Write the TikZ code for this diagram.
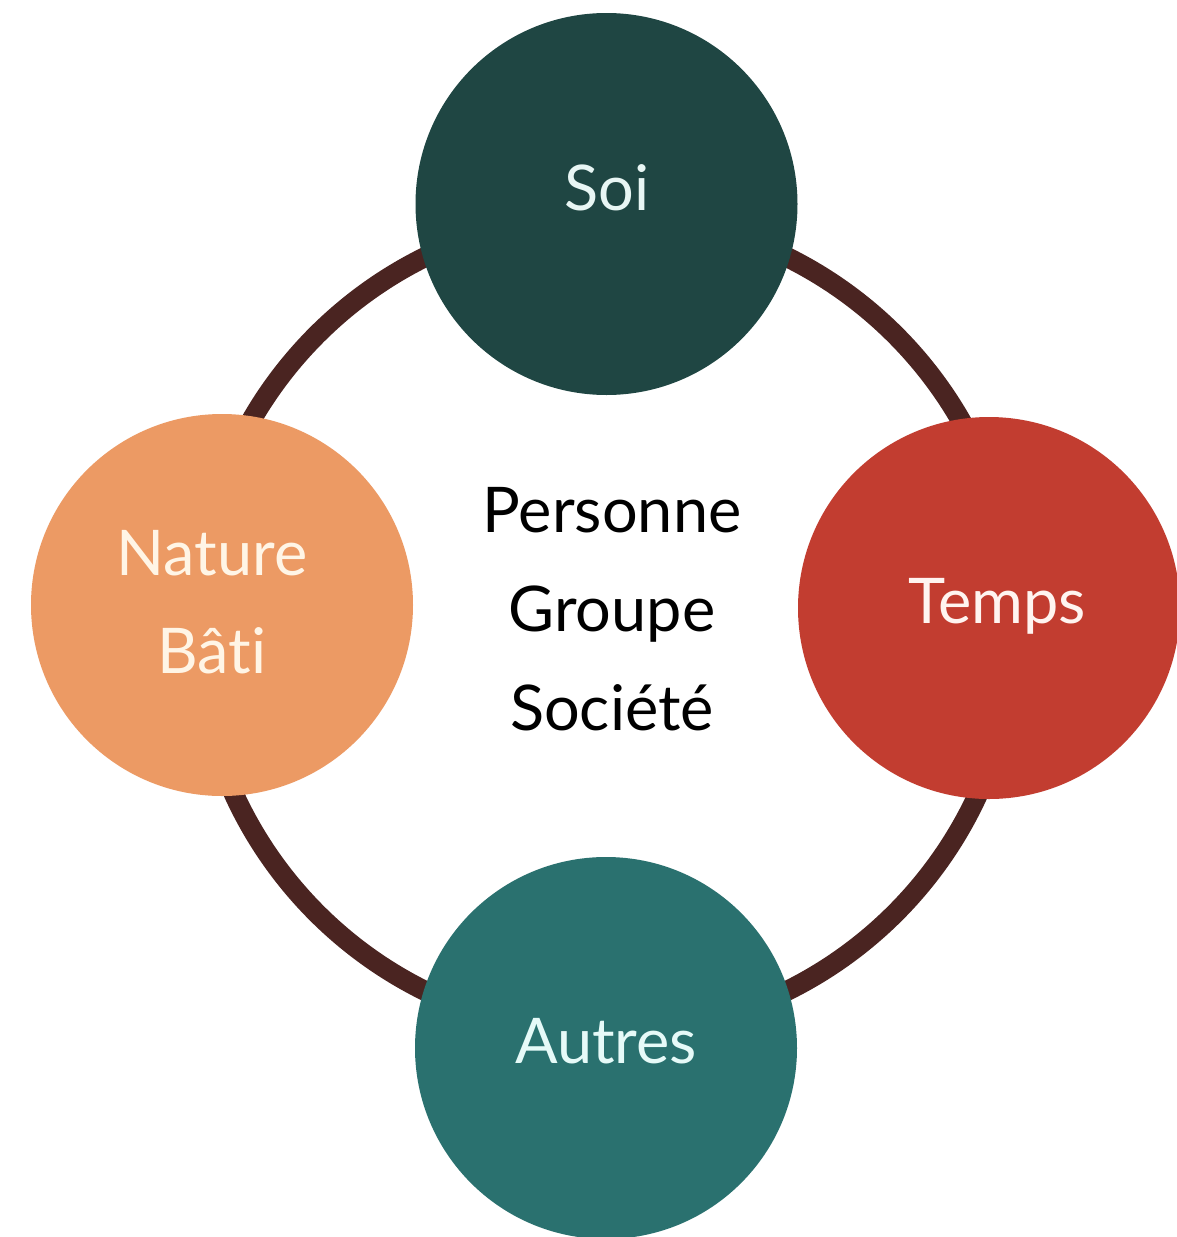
\documentclass[tikz,border=0pt]{standalone}
\usepackage{fontspec}
\setmainfont{Lato}[Ligatures=CommonOff]
\definecolor{ringcol}{HTML}{4A2421}
\definecolor{soicol}{HTML}{1F4643}
\definecolor{tempscol}{HTML}{C23D30}
\definecolor{naturecol}{HTML}{EC9A64}
\definecolor{autrescol}{HTML}{2A716F}
\definecolor{soitxt}{HTML}{E8F6F4}
\definecolor{naturetxt}{HTML}{FFF5E6}
\definecolor{tempstxt}{HTML}{FFF4F0}
\definecolor{autrestxt}{HTML}{E6FAF8}
\tikzset{
  bubble/.style={circle, inner sep=0pt, minimum size=382pt, draw=none},
  lbl/.style={anchor=base, inner sep=0pt, font=\fontsize{63}{98}\selectfont},
  ring/.style={draw=ringcol, line width=20pt}
}
\begin{document}
\begin{tikzpicture}[x=1pt,y=-1pt]
\useasboundingbox (0,0) rectangle (1177,1237);
\fill[white] (0,0) rectangle (1177,1237);
\coordinate (ringc) at (606,624);
\draw[ring] (ringc) circle[radius=409];
\node[bubble, fill=soicol] (soi) at (606.5,204) {};
\node[bubble, fill=naturecol] (nature) at (222,605) {};
\node[bubble, fill=tempscol] (temps) at (989,608) {};
\node[bubble, fill=autrescol] (autres) at (606,1048) {};
\node[lbl, text=soitxt] (tsoi) at (607,210) {Soi};
\node[lbl, text=naturetxt] (tnature) at (212,575) {Nature};
\node[lbl, text=naturetxt] (tbati) at (212,673) {Bâti};
\node[lbl, text=tempstxt] (ttemps) at (997,623) {Temps};
\node[lbl, text=autrestxt] (tautres) at (606,1063) {Autres};
\node[lbl, text=black] (tpers) at (612,532) {Personne};
\node[lbl, text=black] (tgroupe) at (612,631) {Groupe};
\node[lbl, text=black] (tsoc) at (612,730) {Société};
\end{tikzpicture}
\end{document}
